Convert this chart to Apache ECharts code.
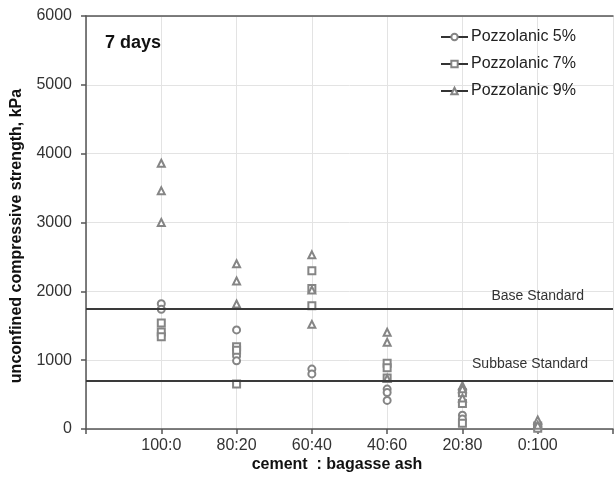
<!DOCTYPE html>
<html>
<head>
<meta charset="utf-8">
<script src="https://cdn.jsdelivr.net/npm/echarts@6/dist/echarts.min.js"></script>
<style>
html,body{margin:0;padding:0;background:#fff;}
#c{width:616px;height:481px;}
</style>
</head>
<body>
<div id="c"></div>
<script>
const categories = ['100:0', '80:20', '60:40', '40:60', '20:80', '0:100'];
const yTicks = [0, 1000, 2000, 3000, 4000, 5000, 6000];
// values per category (index matches categories)
const pozz5 = [[1820, 1740], [1440, 1060, 990], [870, 800], [580, 530, 415], [200, 145], [35, 15]];
const pozz7 = [[1540, 1410, 1340], [1195, 1145, 655], [2300, 2040, 1790], [955, 890, 740], [527, 372, 83], [45, 10]];
const pozz9 = [[3860, 3460, 3000], [2400, 2150, 1815], [2530, 2020, 1520], [1405, 1260, 733], [630, 585, 450], [130, 55]];
const seriesNames = ['Pozzolanic 5%', 'Pozzolanic 7%', 'Pozzolanic 9%'];
const standards = [{name: 'Base Standard', value: 1750}, {name: 'Subbase Standard', value: 700}];

function toPoints(arr) {
  const out = [];
  arr.forEach((vals, i) => vals.forEach(v => out.push([i + 1, v])));
  return out;
}

const font = 'Liberation Sans, Arial, sans-serif';
const symbols = ['emptyCircle', 'emptyRect', 'emptyTriangle'];
const groups = [pozz5, pozz7, pozz9];

const series = groups.map((g, k) => ({
  name: seriesNames[k],
  type: 'line',
  data: toPoints(g),
  symbol: symbols[k],
  symbolSize: 7,
  showSymbol: true,
  itemStyle: {color: '#858585', borderWidth: 1},
  lineStyle: {opacity: 0, width: 0},
  silent: true,
  z: 3
}));

series.push({
  type: 'scatter',
  data: [],
  silent: true,
  markLine: {
    silent: true,
    symbol: 'none',
    animation: false,
    lineStyle: {color: '#3a3a3a', width: 2, type: 'solid'},
    label: {
      show: true,
      position: 'insideEndTop',
      formatter: p => p.name,
      color: '#333',
      fontFamily: font,
      fontSize: 14
    },
    data: standards.map((s, i) => ({
      name: s.name,
      yAxis: s.value,
      label: {distance: i === 0 ? [29, 5] : [25, 10]}
    }))
  }
});

const chart = echarts.init(document.getElementById('c'));
chart.setOption({
  animation: false,
  backgroundColor: '#fff',
  grid: {left: 86, right: 0, top: 16, bottom: 52, containLabel: false},
  legend: {
    data: seriesNames,
    orient: 'vertical',
    left: 435,
    top: 24,
    itemWidth: 27,
    itemHeight: 8,
    itemGap: 11,
    textStyle: {fontFamily: font, fontSize: 16, color: '#222', padding: [0, 0, 0, -2]},
    lineStyle: {color: '#333', width: 2, opacity: 1},
    selectedMode: false
  },
  xAxis: [{
    type: 'value',
    min: 0,
    max: 7,
    interval: 1,
    axisLine: {show: true, onZero: false, lineStyle: {color: '#555', width: 1.5}},
    axisTick: {show: true, length: 5, lineStyle: {color: '#555', width: 1.5}},
    axisLabel: {
      formatter: v => categories[v - 1] || '',
      margin: 9,
      fontFamily: font,
      fontSize: 16,
      color: '#333'
    },
    splitLine: {show: true, lineStyle: {color: '#e3e3e3', width: 1}}
  }, {
    type: 'value',
    position: 'top',
    min: 0,
    max: 7,
    interval: 1,
    axisLine: {show: true, onZero: false, lineStyle: {color: '#555', width: 1.5}},
    axisTick: {show: false},
    axisLabel: {show: false},
    splitLine: {show: false}
  }],
  yAxis: {
    type: 'value',
    min: yTicks[0],
    max: yTicks[yTicks.length - 1],
    interval: 1000,
    axisLine: {show: true, lineStyle: {color: '#555', width: 1.5}},
    axisTick: {show: true, length: 5, lineStyle: {color: '#555', width: 1.5}},
    axisLabel: {margin: 14, fontFamily: font, fontSize: 16, color: '#333', formatter: v => String(v)},
    splitLine: {show: true, lineStyle: {color: '#e3e3e3', width: 1}}
  },
  graphic: [
    {type: 'text', left: 105, top: 34, style: {text: '7 days', font: 'bold 18px ' + font, fill: '#111'}},
    {type: 'text', x: 337, y: 465, style: {text: 'cement  : bagasse ash', font: 'bold 16px ' + font, fill: '#111', align: 'center', verticalAlign: 'middle'}},
    {type: 'text', x: 17, y: 236, rotation: Math.PI / 2, style: {text: 'unconfined compressive strength, kPa', font: 'bold 16px ' + font, fill: '#111', align: 'center', verticalAlign: 'middle'}}
  ],
  series: series
});
</script>
</body>
</html>
